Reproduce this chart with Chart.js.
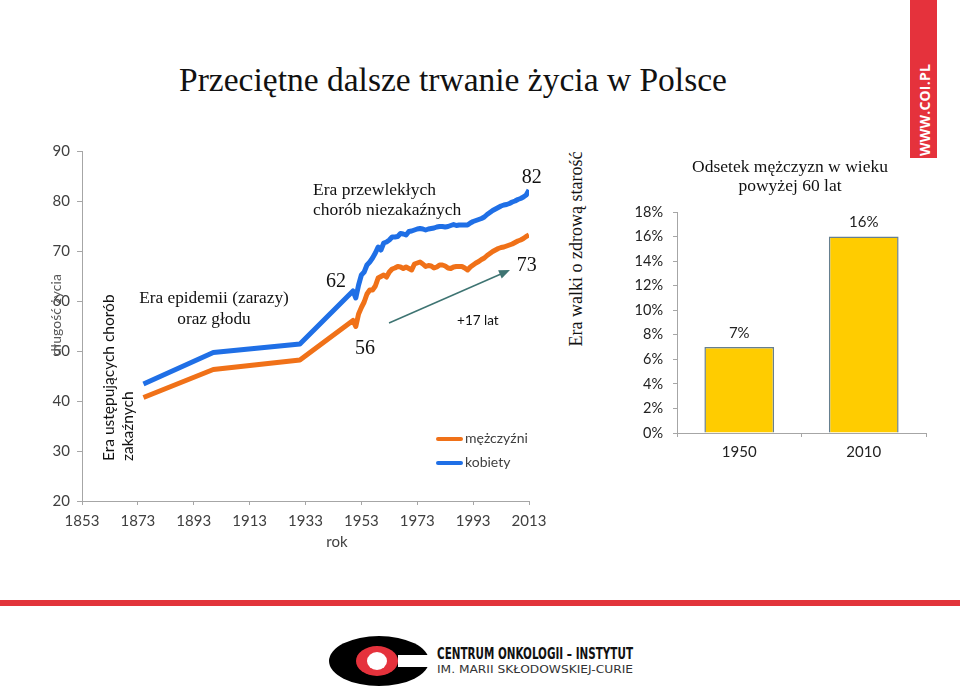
<!DOCTYPE html>
<html lang="pl">
<head>
<meta charset="utf-8">
<title>Przeciętne dalsze trwanie życia w Polsce</title>
<script src="https://cdn.jsdelivr.net/npm/chart.js@4.4.1/dist/chart.umd.min.js"></script>
<style>
  html, body { margin: 0; padding: 0; background: #fff; }
  #page { position: relative; width: 960px; height: 689px; overflow: hidden; background: #fff; }
  canvas { position: absolute; }
  .txt { position: absolute; white-space: nowrap; }
  .serif { font-family: "Liberation Serif", "DejaVu Serif", serif; color: #111; }
  .sans { font-family: Lato, "Open Sans", sans-serif; }
  .rot { position: absolute; width: 0; height: 0; }
  .rot > span { position: absolute; white-space: nowrap; transform: translate(-50%, -50%) rotate(-90deg); }
  .rotStart { position: absolute; white-space: nowrap; transform-origin: 0 0; transform: rotate(-90deg) translateY(-50%); }
  .legend { position: absolute; left: 436px; font: 14px Lato, sans-serif; color: #404040; }
  .legend div { height: 24px; line-height: 24px; }
  .legend i { display: inline-block; width: 27px; height: 4px; vertical-align: middle; margin-right: 2px; border-radius: 2px; }
</style>
</head>
<body>
<div id="page">
  <div class="txt serif" style="left:0; width:906px; top:61px; text-align:center; font-size:33.5px;">Przeciętne dalsze trwanie życia w Polsce</div>

  <canvas id="lineChart" width="560" height="560" style="left:0; top:0;"></canvas>
  <canvas id="barChart" width="360" height="480" style="left:600px; top:0;"></canvas>

  <!-- opisy epok -->
  <div class="rot" style="left:55px; top:315px;"><span class="sans" style="font-size:14px; color:#595959;">długość życia</span></div>
  <div class="rotStart sans" style="left:108px; top:461px; font-size:15.5px; color:#111;">Era ustępujących chorób</div>
  <div class="rotStart sans" style="left:127px; top:461px; font-size:15.5px; color:#111;">zakaźnych</div>
  <div class="txt serif" style="left:114px; width:200px; top:287px; text-align:center; font-size:17.3px; line-height:21px;">Era epidemii (zarazy)<br>oraz głodu</div>
  <div class="txt serif" style="left:313px; top:179px; font-size:17.5px; line-height:20px;">Era przewlekłych<br>chorób niezakaźnych</div>
  <div class="rot" style="left:576px; top:249px;"><span class="serif" style="font-size:18px;">Era walki o zdrową starość</span></div>
  <div class="txt sans" style="left:287px; width:100px; top:532px; text-align:center; font-size:15px; color:#404040;">rok</div>

  <div class="legend" style="top:426px;">
    <div><i style="background:#f07118"></i>mężczyźni</div>
    <div><i style="background:#1f6fe6"></i>kobiety</div>
  </div>

  <div class="txt serif" style="left:690px; width:200px; top:157px; text-align:center; font-size:17.5px; line-height:19px;">Odsetek mężczyzn w wieku<br>powyżej 60 lat</div>

  <!-- pasek www -->
  <div style="position:absolute; left:910px; top:0; width:27px; height:158px; background:#e5323c;"></div>
  <div class="rot" style="left:924px; top:110px;"><span style="font:bold 14px 'Open Sans', sans-serif; color:#fff; letter-spacing:0.2px;">WWW.COI.PL</span></div>

  <!-- stopka -->
  <div style="position:absolute; left:0; top:600px; width:960px; height:6px; background:#e2343b;"></div>
  <svg style="position:absolute; left:0; top:620px;" width="960" height="69">
    <ellipse cx="379" cy="41" rx="50" ry="25" fill="#000"/>
    <rect x="398" y="35" width="34" height="12" fill="#fff"/>
    <rect x="428" y="10" width="10" height="60" fill="#fff"/>
    <ellipse cx="377" cy="41" rx="21" ry="15" fill="#e5323c"/>
    <ellipse cx="377" cy="41" rx="10" ry="9" fill="#fff"/>
    <text x="437" y="39" font-family="DejaVu Sans Condensed, DejaVu Sans, sans-serif" font-weight="bold" font-size="15" fill="#111" textLength="196" lengthAdjust="spacingAndGlyphs">CENTRUM ONKOLOGII – INSTYTUT</text>
    <text x="437" y="53" font-family="DejaVu Sans, sans-serif" font-size="10" fill="#333" textLength="196" lengthAdjust="spacingAndGlyphs">IM. MARII SKŁODOWSKIEJ-CURIE</text>
  </svg>
</div>

<script>
// Dane wykresu liniowego: lata i przeciętne trwanie życia
const years = [1875, 1900, 1931, 1950, 1951, 1952, 1953, 1954, 1955, 1956, 1957, 1958, 1959,
  1960, 1961, 1962, 1963, 1964, 1965, 1966, 1967, 1968, 1969, 1970, 1971, 1972, 1973, 1974,
  1975, 1976, 1977, 1978, 1979, 1980, 1981, 1982, 1983, 1984, 1985, 1986, 1987, 1988, 1989,
  1990, 1991, 1992, 1993, 1994, 1995, 1996, 1997, 1998, 1999, 2000, 2001, 2002, 2003, 2004,
  2005, 2006, 2007, 2008, 2009, 2010, 2011, 2012, 2013];

const kobiety = [43.4, 49.7, 51.4, 62.0, 60.6, 63.2, 65.2, 65.8, 67.2, 67.8, 68.6, 69.6, 70.8,
  70.2, 71.6, 71.8, 72.2, 72.8, 72.8, 72.9, 73.5, 73.4, 73.2, 73.9, 74.0, 74.2, 74.4, 74.5,
  74.4, 74.2, 74.4, 74.5, 74.6, 74.8, 74.9, 74.9, 74.8, 74.9, 75.1, 75.3, 75.1, 75.2, 75.2,
  75.2, 75.2, 75.6, 75.9, 76.1, 76.3, 76.5, 76.8, 77.3, 77.7, 78.1, 78.4, 78.7, 79.0, 79.2,
  79.3, 79.5, 79.8, 80.0, 80.3, 80.5, 80.8, 81.2, 82.2];

const mezczyzni = [40.7, 46.3, 48.2, 56.1, 54.9, 57.4, 58.7, 59.8, 61.4, 62.2, 62.2, 63.0, 64.6,
  64.9, 65.2, 64.8, 65.8, 66.4, 66.6, 66.9, 66.8, 66.5, 66.8, 66.5, 66.2, 67.4, 67.6, 67.8,
  67.4, 66.9, 67.1, 67.0, 66.6, 66.8, 67.2, 67.2, 67.0, 66.6, 66.5, 66.8, 66.9, 66.9, 66.9,
  66.6, 66.2, 66.8, 67.2, 67.6, 67.9, 68.3, 68.6, 69.1, 69.5, 69.9, 70.2, 70.5, 70.7, 70.8,
  71.0, 71.2, 71.4, 71.7, 72.0, 72.2, 72.5, 72.9, 73.2];

const xTickYears = [1853, 1873, 1893, 1913, 1933, 1953, 1973, 1993, 2013];

// Dane wykresu słupkowego
const barCategories = ['1950', '2010'];
const barValues = [7, 16];

const AXIS = '#a6a6a6';
const TICK_TXT = '#404040';
const ORANGE = '#f07118';
const BLUE = '#1f6fe6';

// Podpisy wartości i strzałka w jednostkach danych (rok, lata życia)
const lineNotes = [
  { text: '62', year: 1943.9, value: 63.8 },
  { text: '56', year: 1954.3, value: 50.4 },
  { text: '82', year: 2014.0, value: 84.6 },
  { text: '73', year: 2012.2, value: 67.0 }
];

const lineAnnotations = {
  id: 'lineAnnotations',
  afterDatasetsDraw(chart) {
    const { ctx, scales: { x, y } } = chart;
    ctx.save();
    ctx.fillStyle = '#111';
    ctx.textAlign = 'center';
    ctx.textBaseline = 'middle';
    ctx.font = '20px "Liberation Serif", serif';
    lineNotes.forEach(n => ctx.fillText(n.text, x.getPixelForValue(n.year), y.getPixelForValue(n.value)));

    ctx.font = '13.5px Lato, sans-serif';
    ctx.fillText('+17 lat', x.getPixelForValue(1994.7), y.getPixelForValue(56));

    // strzałka
    const x1 = x.getPixelForValue(1962.9), y1 = y.getPixelForValue(55.6);
    const x2 = x.getPixelForValue(2006.2), y2 = y.getPixelForValue(66.2);
    const ang = Math.atan2(y2 - y1, x2 - x1);
    ctx.strokeStyle = '#3e7472';
    ctx.fillStyle = '#3e7472';
    ctx.lineWidth = 1.5;
    ctx.beginPath();
    ctx.moveTo(x1, y1);
    ctx.lineTo(x2 - 8 * Math.cos(ang), y2 - 8 * Math.sin(ang));
    ctx.stroke();
    ctx.beginPath();
    ctx.moveTo(x2, y2);
    ctx.lineTo(x2 - 11 * Math.cos(ang) + 4.5 * Math.sin(ang), y2 - 11 * Math.sin(ang) - 4.5 * Math.cos(ang));
    ctx.lineTo(x2 - 11 * Math.cos(ang) - 4.5 * Math.sin(ang), y2 - 11 * Math.sin(ang) + 4.5 * Math.cos(ang));
    ctx.closePath();
    ctx.fill();
    ctx.restore();
  }
};

const barLabels = {
  id: 'barLabels',
  afterDatasetsDraw(chart) {
    const { ctx } = chart;
    const meta = chart.getDatasetMeta(0);
    ctx.save();
    ctx.fillStyle = '#222';
    ctx.font = '15px Lato, sans-serif';
    ctx.textAlign = 'center';
    ctx.textBaseline = 'middle';
    meta.data.forEach((bar, i) => ctx.fillText(barValues[i] + '%', bar.x, bar.y - 14));
    ctx.restore();
  }
};

document.addEventListener('DOMContentLoaded', function () {
  createLineChart();
  createBarChart();
});

function createLineChart() {
  const ctx = document.getElementById('lineChart').getContext('2d');
  new Chart(ctx, {
    type: 'line',
    data: {
      datasets: [
        {
          label: 'kobiety',
          data: years.map((yr, i) => ({ x: yr, y: kobiety[i] })),
          borderColor: BLUE,
          borderWidth: 5,
          pointRadius: 0,
          borderJoinStyle: 'round',
          tension: 0
        },
        {
          label: 'mężczyźni',
          data: years.map((yr, i) => ({ x: yr, y: mezczyzni[i] })),
          borderColor: ORANGE,
          borderWidth: 5,
          pointRadius: 0,
          borderJoinStyle: 'round',
          tension: 0
        }
      ]
    },
    options: {
      responsive: false,
      animation: false,
      devicePixelRatio: 1,
      layout: { padding: { left: 0, top: 151, right: 31, bottom: 0 } },
      plugins: { legend: { display: false }, tooltip: { enabled: false } },
      scales: {
        x: {
          type: 'linear',
          min: 1853,
          max: 2013,
          afterBuildTicks: s => { s.ticks = xTickYears.map(v => ({ value: v })); },
          afterFit: s => { s.height = 59; },
          grid: { drawOnChartArea: false, drawTicks: true, tickLength: 4, color: AXIS },
          border: { color: AXIS },
          ticks: { color: TICK_TXT, font: { family: 'Lato', size: 15 }, padding: 7, maxRotation: 0, callback: v => String(v) }
        },
        y: {
          min: 20,
          max: 90,
          afterFit: s => { s.width = 82; },
          grid: { drawOnChartArea: false, drawTicks: true, tickLength: 5, color: AXIS },
          border: { color: AXIS },
          ticks: { stepSize: 10, color: TICK_TXT, font: { family: 'Lato', size: 15 }, padding: 7 }
        }
      }
    },
    plugins: [lineAnnotations]
  });
}

function createBarChart() {
  const ctx = document.getElementById('barChart').getContext('2d');
  new Chart(ctx, {
    type: 'bar',
    data: {
      labels: barCategories,
      datasets: [{
        data: barValues,
        backgroundColor: '#ffcc00',
        borderColor: '#667f8f',
        borderWidth: 1.5,
        barPercentage: 0.56,
        categoryPercentage: 1.0
      }]
    },
    options: {
      responsive: false,
      animation: false,
      devicePixelRatio: 1,
      layout: { padding: { left: 0, top: 212, right: 34, bottom: 0 } },
      plugins: { legend: { display: false }, tooltip: { enabled: false } },
      scales: {
        x: {
          afterFit: s => { s.height = 47; },
          grid: { offset: true, drawOnChartArea: false, drawTicks: true, tickLength: 4, color: AXIS },
          border: { color: AXIS },
          ticks: { color: '#222', font: { family: 'Lato', size: 15 }, padding: 6 }
        },
        y: {
          min: 0,
          max: 18,
          afterFit: s => { s.width = 77; },
          grid: { drawOnChartArea: false, drawTicks: true, tickLength: 4, color: AXIS },
          border: { color: AXIS },
          ticks: { stepSize: 2, color: '#222', font: { family: 'Lato', size: 14.5 }, padding: 10, callback: v => v + '%' }
        }
      }
    },
    plugins: [barLabels]
  });
}
</script>
</body>
</html>
